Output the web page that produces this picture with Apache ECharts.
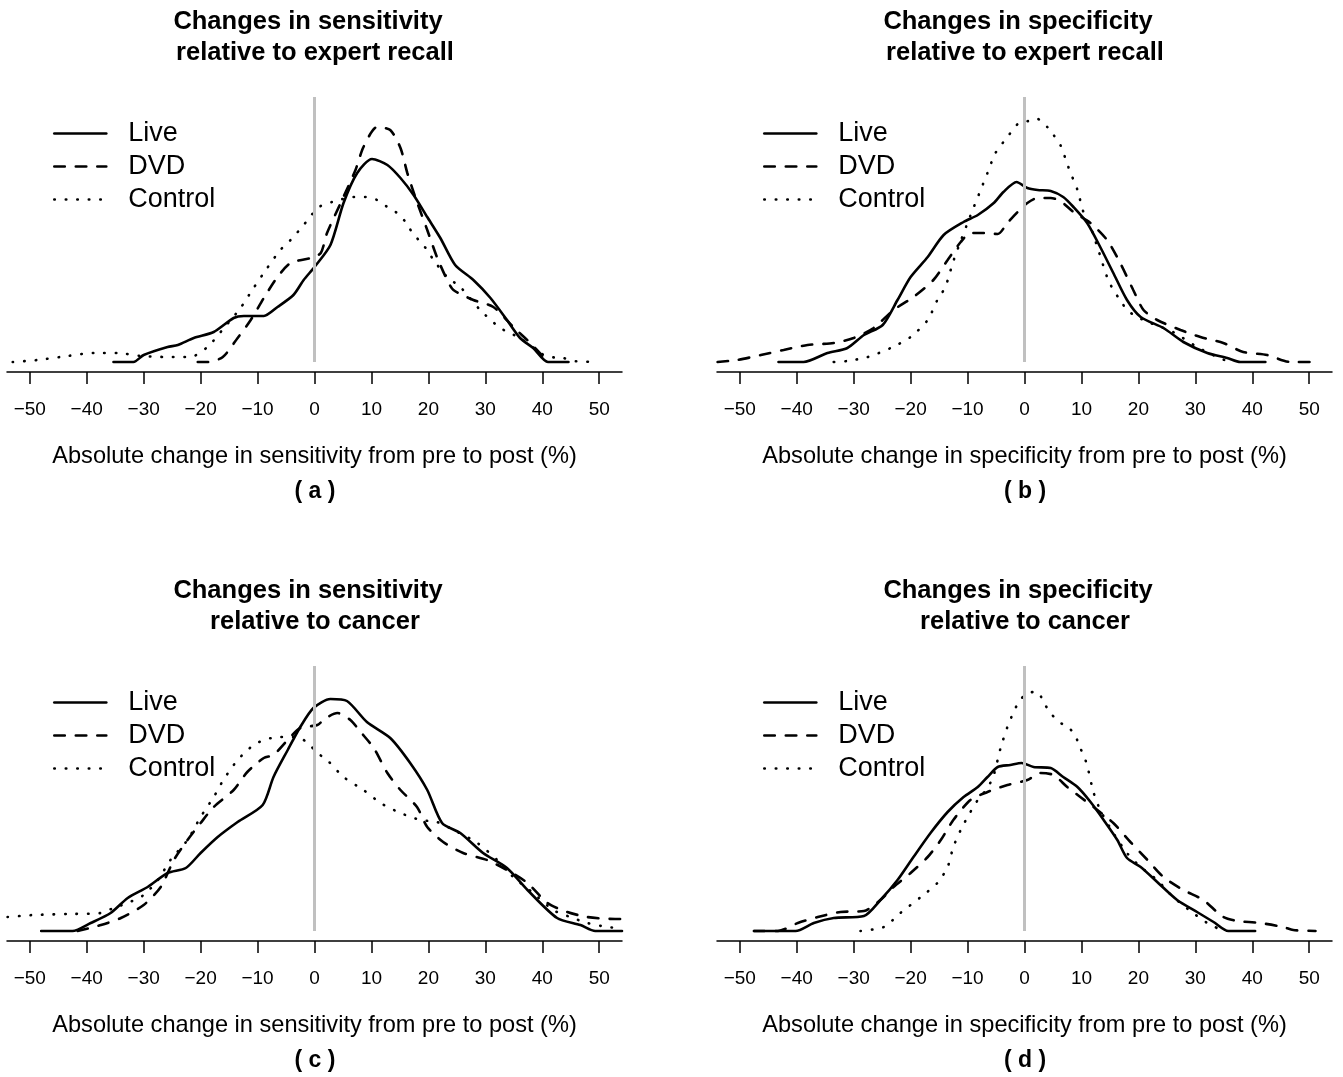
<!DOCTYPE html>
<html>
<head>
<meta charset="utf-8">
<title>Changes in sensitivity / specificity</title>
<script src="https://cdn.jsdelivr.net/npm/echarts@6/dist/echarts.min.js"></script>
<style>
	html, body { margin: 0; padding: 0; background: #ffffff; }
	#chart { width: 1343px; height: 1077px; }
</style>
</head>
<body>
<div id="chart"></div>
<script>
/*
 * density curves, [change (%), density x 1000]
 */
var xTicks = [-50, -40, -30, -20, -10, 0, 10, 20, 30, 40, 50];
var groupNames = ["Live", "DVD", "Control"];

// (a) sensitivity vs expert recall
var liveA = [[-35.3,0],[-31.8,0],[-30,1.4],[-25.8,3],[-24,3.4],[-21.2,4.8],[-17.7,6],[-14.2,8.8],[-12.4,9.2],[-8.9,9.2],[-6.5,11],[-3.7,13.4],[-1.9,16.4],[0,19],[2.8,23.4],[5.1,31.8],[7.5,37.8],[10.1,40.6],[12.8,39.4],[15.1,36.8],[17.4,33.4],[19.8,29],[22.1,24.8],[24.7,19.4],[27.9,16.4],[30.9,12.8],[33.8,8.4],[36.1,4.8],[38.4,2.8],[41,0],[44.6,0]];
var dvdA = [[-20.5,0],[-18.8,0],[-16.1,1],[-13.5,4.8],[-11.2,8.4],[-8.9,12.8],[-6.5,17],[-4.2,19.8],[-0.7,20.8],[1.1,21.8],[2.2,25.8],[4.6,31.8],[7.2,38.4],[8.6,43],[11,47],[13.3,46.4],[15.1,42.8],[16.3,37.8],[18,32],[19.8,26.4],[21.5,21],[23.3,16.4],[24.4,14.4],[27.9,12.4],[31.4,11],[34.9,7],[37.9,3.8],[40.2,1],[41,0]];
var controlA = [[-53,0],[-48.6,0.4],[-44.6,1],[-38.7,1.8],[-34.6,1.8],[-30.5,1.2],[-25.8,1],[-21.8,1],[-18.8,3],[-15.9,6.8],[-13,10.8],[-10.7,14.8],[-8.3,18.8],[-6,22.4],[-4.2,24.4],[-1.9,27.4],[-0.4,29.6],[1.1,31.2],[3.1,32],[6.9,33],[8.9,33],[11,32.4],[12.8,31],[14.5,29.8],[16,28],[17.1,26],[18.6,24],[19.8,22.4],[20.9,20.4],[23.3,17],[25.6,15],[29.1,10.4],[32.6,6.8],[34.4,5.8],[37.4,3.8],[39.6,1.8],[41.4,1],[43.7,0.8],[45.4,0.2],[49.6,0]];

// (b) specificity vs expert recall
var liveB = [[-43.2,0],[-38.8,0],[-34.6,1.8],[-31.1,2.8],[-28.2,5.4],[-24.9,7.4],[-22.3,12.4],[-20,17],[-17,21],[-14.2,25.4],[-10.7,28],[-8.2,29.4],[-5.4,31.8],[-3.7,34],[-1.4,36],[0.5,34.8],[2.3,34.4],[4.6,34.2],[6.8,33],[8.6,31],[11,27.8],[13.3,23],[15.6,17.8],[18,12.4],[20.4,9],[24.4,6.8],[27.9,4],[32.1,1.8],[35.6,0.8],[37.9,0],[42.3,0]];
var dvdB = [[-53.9,0],[-50.4,0.4],[-46.3,1.4],[-42.3,2.4],[-38.1,3.4],[-33.5,3.8],[-30,4.8],[-26.5,6.8],[-23,10.4],[-19.5,13],[-16,16.4],[-13.5,20.4],[-11.2,24],[-9.5,25.8],[-7.2,25.8],[-4.7,25.6],[-3,27.8],[-1.2,30],[0.5,31.8],[2.3,32.8],[4.6,32.8],[6.3,32.2],[8.6,30],[11.6,27.8],[14.5,24.4],[16.8,19.8],[19.1,14.4],[20.9,10.4],[23.3,8.4],[27.4,6.4],[30.9,5],[34.9,3.8],[38.4,2],[42.6,1.4],[46.7,0],[51.1,0]];
var controlB = [[-33.5,0],[-31.1,0.2],[-27.5,1],[-23.5,2.8],[-20,5],[-17,8.4],[-15.3,12.4],[-13.9,15],[-12.6,19.8],[-11.6,23],[-10,27.8],[-8.9,31],[-7.7,34.4],[-6.5,37.8],[-5.1,41.8],[-3,45],[-1,47.8],[0.7,48.2],[2.3,48.6],[4,47],[5.1,45.4],[6.3,43.4],[7.7,39],[8.6,36.4],[9.3,34.4],[10.4,29.8],[11.6,27],[12.8,23],[14.5,17],[15.6,14.4],[16.8,12.4],[18,10.4],[19.8,9],[22.1,7.8],[26.1,6],[30.3,3],[33.8,1],[35.6,0.2]];

// (c) sensitivity vs cancer
var liveC = [[-48,0],[-42.5,0],[-39.3,1.6],[-35.8,3.6],[-32.8,6.6],[-29.3,8.8],[-25.8,11.6],[-22.6,12.6],[-20,15.6],[-17,18.8],[-13.5,21.8],[-9.1,25.2],[-7.2,30.8],[-4.7,36.2],[-2.5,40.8],[-0.2,44.6],[2.8,46.4],[5.7,46],[9.2,41.8],[13.3,38.6],[16.8,33.6],[19.8,28.2],[22.4,21.6],[25.6,19.6],[29.6,15.6],[33.8,12.6],[37.4,8.2],[42.6,2.6],[46.7,1.2],[49.3,0],[54,0]];
var dvdC = [[-41.6,0],[-37.5,1.2],[-34,2.6],[-30,5.2],[-27,8.8],[-24.7,14.2],[-22.3,18.2],[-20,21.6],[-17.7,24.8],[-14.2,28.2],[-11.8,31.8],[-8.9,34.6],[-7.2,35.2],[-4.7,38.2],[-2.5,40.6],[0.5,41.2],[2,42.6],[4,43.6],[6.3,42.2],[8.1,39.8],[10.4,36.6],[12.8,31.6],[15.1,28.2],[18,24.8],[19.8,20.8],[22.6,17.8],[26.1,15.6],[30.3,14.2],[33.8,12.2],[37.4,9.6],[40.9,5.6],[44.4,3.8],[47.9,2.8],[52.8,2.4],[54,2.4]];
var controlC = [[-53.9,2.8],[-49.3,3.2],[-43.3,3.4],[-37.5,3.6],[-35.3,4.6],[-32.8,5.6],[-30,7.2],[-27.5,10.2],[-25.3,14.2],[-22.3,18.2],[-20,22.8],[-17.7,26.8],[-16,30.2],[-13.5,34.2],[-10.7,37.2],[-8.3,38.4],[-6,38.8],[-3,38.8],[-1.2,37.6],[0.5,35.6],[2.2,34.2],[5.1,30.8],[8.6,28.2],[11.6,25.6],[15.1,23.6],[18.6,22.2],[21.5,21.8],[25.1,19.8],[28.6,17.6],[32.1,14.2],[34.9,10.8],[38.4,7.6],[41.9,4.2],[44.9,2.8],[47.9,1.6],[51.4,0.8],[53.7,0.6]];

// (d) specificity vs cancer
var liveD = [[-47.5,0],[-40.2,0],[-37,1.6],[-33.5,2.6],[-28.2,3],[-25.3,6.2],[-22.3,10.2],[-19.5,14.8],[-16.5,19.6],[-13.5,23.8],[-10.7,26.8],[-8.2,28.8],[-6.5,30.8],[-4.7,32.8],[-2.5,33.2],[-0.5,33.6],[1.6,32.8],[4.6,32.6],[6.8,30.8],[9.3,28.8],[11.6,25.8],[13.9,22.2],[16.3,18.2],[18,14.6],[20.4,12.8],[23.3,9.8],[26.8,6.2],[30.3,3.8],[33.2,1.8],[35.8,0],[40.5,0]];
var dvdD = [[-47.5,0],[-43.3,0],[-39.8,1.6],[-36.3,2.8],[-32.3,3.8],[-28.2,4],[-25.3,6.2],[-23,8.8],[-20,11.6],[-17,14.8],[-14.7,18.2],[-12.5,22.2],[-9.5,26.2],[-6.5,27.8],[-3,29.2],[0.5,30.2],[2.8,31.6],[5.1,31.2],[7.5,28.8],[9.8,26.8],[12.8,24.2],[15.6,21.6],[18.6,17.8],[21.6,14.2],[24.4,10.8],[27.9,8.2],[31.4,6.2],[34.9,2.8],[37.4,2],[41.4,1.6],[45.4,0.8],[47.2,0.2],[51.1,0]];
var controlD = [[-28.8,0],[-24.7,0.8],[-21.8,3.6],[-18.2,6.8],[-15.3,9.6],[-13.5,12.8],[-12.5,16.8],[-11.2,20.2],[-10,22.8],[-8.2,26.2],[-6.5,28.6],[-5.4,31.2],[-4.2,36.6],[-3,40.8],[-1.9,43.8],[-1,45.8],[0.5,47.6],[2.3,47.8],[3.4,45.6],[4.6,43.6],[6,41.8],[7.7,40.8],[9,38.8],[9.8,36.6],[10.7,34.2],[11.2,32.2],[12.1,27.8],[13.3,24.2],[15.6,19.6],[18,15.6],[20.4,12.8],[23.3,10.2],[26.1,6.8],[29.6,3.6],[32.1,1.6],[33.8,0.6]];

var FONT = "'Liberation Sans', Arial, Helvetica, sans-serif";

// panel layout (grid positions in px)
var panels = [
	{ tag: "( a )", left: 7, top: 95, title1: "Changes in sensitivity", title2: "relative to expert recall",
		xName: "Absolute change in sensitivity from pre to post (%)", data: [liveA, dvdA, controlA] },
	{ tag: "( b )", left: 717, top: 95, title1: "Changes in specificity", title2: "relative to expert recall",
		xName: "Absolute change in specificity from pre to post (%)", data: [liveB, dvdB, controlB] },
	{ tag: "( c )", left: 7, top: 664, title1: "Changes in sensitivity", title2: "relative to cancer",
		xName: "Absolute change in sensitivity from pre to post (%)", data: [liveC, dvdC, controlC] },
	{ tag: "( d )", left: 717, top: 664, title1: "Changes in specificity", title2: "relative to cancer",
		xName: "Absolute change in specificity from pre to post (%)", data: [liveD, dvdD, controlD] }
];

var GRID_W = 615;
var GRID_H = 277;

var lineStyles = [
	{ color: "#000", width: 2.6, type: "solid", cap: "round" },
	{ color: "#000", width: 2.6, type: [10.5, 11], cap: "round" },
	{ color: "#000", width: 2.6, type: [0.5, 11], cap: "round" }
];

function fmtTick(v) {
	return v < 0 ? "\u2212" + Math.abs(v) : String(v);
}

function buildOption() {
	var grids = [], xAxes = [], yAxes = [], series = [], legends = [], texts = [];

	panels.forEach(function(p, i) {
		var cx = p.left + GRID_W / 2 + 0.5;
		var axisY = p.top + GRID_H;

		grids.push({ left: p.left, top: p.top, width: GRID_W, height: GRID_H, containLabel: false });

		xAxes.push({
			type: "value", gridIndex: i, min: -54, max: 54,
			splitLine: { show: false },
			axisLine: { show: true, onZero: false, lineStyle: { color: "#000", width: 1.5 } },
			axisTick: { show: true, length: 12, customValues: xTicks, lineStyle: { color: "#000", width: 1.5 } },
			axisLabel: { customValues: xTicks, margin: 28, color: "#000", fontSize: 19, fontFamily: FONT, formatter: fmtTick },
			name: p.xName, nameLocation: "middle", nameGap: 72,
			nameTextStyle: { color: "#000", fontSize: 23.6, fontFamily: FONT }
		});

		yAxes.push({ type: "value", gridIndex: i, min: -2, max: 53.4, show: false, splitLine: { show: false } });

		// grey reference line at zero
		series.push({
			type: "line", xAxisIndex: i, yAxisIndex: i, data: [], silent: true, z: 1,
			markLine: {
				symbol: "none", silent: true, animation: false, label: { show: false },
				lineStyle: { color: "#c0c0c0", width: 3, type: "solid" },
				data: [[{ coord: [0, 0] }, { coord: [0, 53] }]]
			}
		});

		groupNames.forEach(function(name, k) {
			series.push({
				name: name, type: "line", xAxisIndex: i, yAxisIndex: i,
				data: p.data[k], symbol: "none", smooth: 0.25, z: 3,
				itemStyle: { color: "#000" },
				lineStyle: lineStyles[k]
			});
		});

		legends.push({
			data: groupNames, orient: "vertical", left: p.left + 41, top: p.top + 20,
			itemWidth: 52, itemHeight: 14, itemGap: 6, selectedMode: false,
			itemStyle: { color: "rgba(0,0,0,0)", borderWidth: 0, opacity: 0 },
			lineStyle: { width: "inherit", type: "inherit", cap: "round" },
			textStyle: { color: "#000", fontSize: 27, fontFamily: FONT, lineHeight: 27, padding: [0, 0, 0, 17] }
		});

		var tTop = p.top - 73;
		texts.push({ type: "text", x: cx - 7, y: tTop, style: { text: p.title1, font: "bold 25.5px " + FONT, fill: "#000", textAlign: "center", textVerticalAlign: "middle" } });
		texts.push({ type: "text", x: cx, y: tTop + 31, style: { text: p.title2, font: "bold 25.5px " + FONT, fill: "#000", textAlign: "center", textVerticalAlign: "middle" } });
		texts.push({ type: "text", x: cx, y: axisY + 120, style: { text: p.tag, font: "bold 23px " + FONT, fill: "#000", textAlign: "center", textVerticalAlign: "middle" } });
	});

	return {
		backgroundColor: "#ffffff",
		animation: false,
		grid: grids,
		xAxis: xAxes,
		yAxis: yAxes,
		legend: legends,
		series: series,
		graphic: texts
	};
}

var voChart = echarts.init(document.getElementById("chart"), null, { renderer: "canvas" });
voChart.setOption(buildOption());
</script>
</body>
</html>
